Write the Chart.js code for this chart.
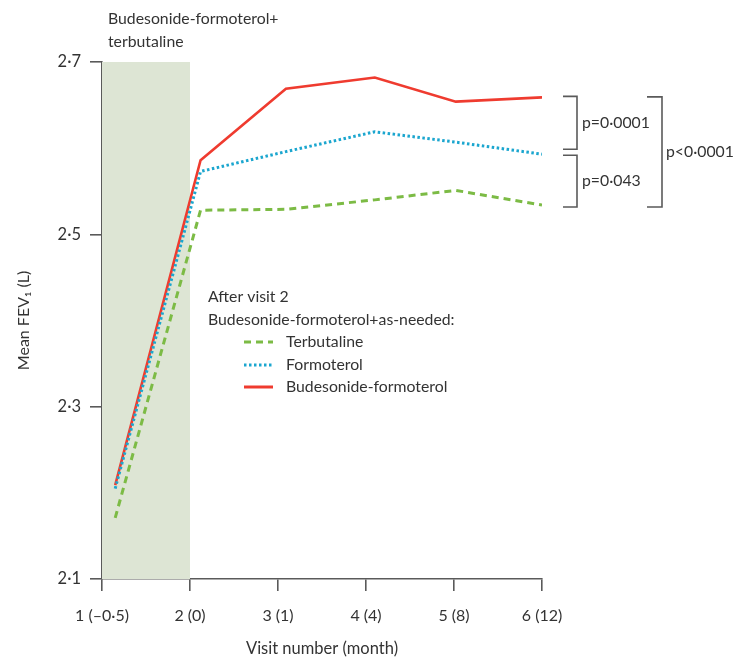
<!DOCTYPE html>
<html>
<head>
<meta charset="utf-8">
<script src="https://cdn.jsdelivr.net/npm/chart.js@4/dist/chart.umd.min.js"></script>
<style>
  html, body { margin: 0; padding: 0; background: #fff; }
  #wrap { width: 734px; height: 659px; }
</style>
</head>
<body>
<div id="wrap"><canvas id="mychart" width="734" height="659"></canvas></div>
<script>
// visit positions (slightly offset from the ticks, as in the figure)
var visits = [1.15, 2.12, 3.09, 4.1, 5.02, 6.0];
var xTickLabels = ['1 (\u20130\u00b75)', '2 (0)', '3 (1)', '4 (4)', '5 (8)', '6 (12)'];
var yTicks = [2.1, 2.3, 2.5, 2.7];

var terbutaline = [2.171, 2.528, 2.529, 2.540, 2.551, 2.534];
var formoterol  = [2.205, 2.573, 2.596, 2.619, 2.607, 2.593];
var budForm     = [2.209, 2.586, 2.669, 2.682, 2.654, 2.659];

var seriesNames = ['Terbutaline', 'Formoterol', 'Budesonide-formoterol'];
var pLabels = ['p=0\u00b70001', 'p=0\u00b7043', 'p<0\u00b70001'];

var FONT = 'Lato, "Open Sans", sans-serif';
var FS = 15.8;
var TXT = '#333333';
var AX = '#5a5a5a';

function pts(arr) {
  var out = [];
  for (var i = 0; i < arr.length; i++) out.push({x: visits[i], y: arr[i]});
  return out;
}
function dot(v) { return String(v).replace('.', '\u00b7'); }

var colors = ['#7cbb45', '#1ba6cf', '#ef3b2f'];
var dashes = [[7, 5], [2.5, 2.5], []];

// shaded run-in period + text annotations + p-value brackets
var extras = {
  id: 'extras',
  beforeDatasetsDraw: function(chart) {
    var c = chart.ctx, xs = chart.scales.x, ys = chart.scales.y;
    var x1 = xs.getPixelForValue(1), x2 = xs.getPixelForValue(2);
    var top = ys.getPixelForValue(2.7), bot = ys.getPixelForValue(2.1);
    c.save();
    c.fillStyle = '#dde5d4';
    c.fillRect(x1, top, x2 - x1, bot - top);
    c.restore();
  },
  afterDraw: function(chart) {
    var c = chart.ctx, xs = chart.scales.x, ys = chart.scales.y;
    c.save();
    c.font = FS + 'px ' + FONT;
    c.fillStyle = TXT;
    c.textBaseline = 'middle';
    c.textAlign = 'left';
    c.fillText('Budesonide-formoterol+', 108, 19);
    c.fillText('terbutaline', 108, 42);

    // legend
    c.fillText('After visit 2', 208, 297);
    c.fillText('Budesonide-formoterol+as-needed:', 208, 320);
    var rows = [342, 365, 387];
    for (var i = 0; i < 3; i++) {
      c.save();
      c.strokeStyle = colors[i];
      c.lineWidth = 3;
      c.setLineDash(dashes[i]);
      c.beginPath();
      c.moveTo(244, rows[i]);
      c.lineTo(273, rows[i]);
      c.stroke();
      c.restore();
      c.fillText(seriesNames[i], 286, rows[i]);
    }

    // brackets
    var n = visits.length - 1;
    var xe = xs.getPixelForValue(6);
    var yR = ys.getPixelForValue(budForm[n]);
    var yB = ys.getPixelForValue(formoterol[n]);
    var yG = ys.getPixelForValue(terbutaline[n]);
    c.strokeStyle = AX;
    c.lineWidth = 1.6;
    function bracket(xa, xb, ya, yb) {
      c.beginPath();
      c.moveTo(xa, ya); c.lineTo(xb, ya); c.lineTo(xb, yb); c.lineTo(xa, yb);
      c.stroke();
    }
    bracket(xe + 21, xe + 35, yR - 1, yB - 5);
    bracket(xe + 21, xe + 35, yB + 1, yG + 2);
    bracket(xe + 105, xe + 120, yR - 0.5, yG + 2);
    c.fillText(pLabels[0], xe + 40, (yR + yB) / 2 - 3);
    c.fillText(pLabels[1], xe + 40, (yB + yG) / 2 + 1);
    c.fillText(pLabels[2], xe + 124, (yR + yG) / 2 + 1);
    c.restore();
  }
};

var datasets = [];
var allSeries = [terbutaline, formoterol, budForm];
for (var i = 0; i < 3; i++) {
  datasets.push({
    label: seriesNames[i],
    data: pts(allSeries[i]),
    borderColor: colors[i],
    backgroundColor: colors[i],
    borderWidth: i == 2 ? 2.6 : 3,
    borderDash: dashes[i],
    pointRadius: 0,
    tension: 0,
    fill: false
  });
}

var ctx = document.getElementById('mychart');
var myChart = new Chart(ctx, {
  type: 'line',
  data: { datasets: datasets },
  options: {
    responsive: false,
    animation: false,
    events: [],
    layout: { padding: { left: 0, right: 192, top: 62, bottom: 0 } },
    plugins: { legend: { display: false }, tooltip: { enabled: false } },
    scales: {
      x: {
        type: 'linear',
        min: 1, max: 6,
        afterFit: function(s) { s.height = 80; },
        afterBuildTicks: function(s) {
          s.ticks = [1, 2, 3, 4, 5, 6].map(function(v) { return {value: v}; });
        },
        ticks: {
          padding: 15,
          color: TXT,
          font: { family: FONT, size: 16 },
          maxRotation: 0,
          callback: function(v) { return xTickLabels[v - 1]; }
        },
        grid: { drawOnChartArea: false, drawTicks: true, tickLength: 12, color: AX, lineWidth: 1.6 },
        border: { color: AX, width: 1.6 },
        title: { display: true, text: 'Visit number (month)', color: TXT, font: { family: FONT, size: 16.5 }, padding: { top: 17, bottom: 0 } }
      },
      y: {
        min: 2.1, max: 2.7,
        afterFit: function(s) { s.width = 102; },
        afterBuildTicks: function(s) {
          s.ticks = yTicks.map(function(v) { return {value: v}; });
        },
        ticks: {
          padding: 9,
          color: TXT,
          font: { family: FONT, size: 16.5 },
          callback: function(v) { return dot(v.toFixed(1)); }
        },
        grid: { drawOnChartArea: false, drawTicks: true, tickLength: 12, color: AX, lineWidth: 1.6 },
        border: { color: AX, width: 1.6 },
        title: { display: true, text: 'Mean FEV\u2081 (L)', color: TXT, font: { family: FONT, size: 16 }, padding: { top: 14, bottom: 4 } }
      }
    }
  },
  plugins: [extras]
});
</script>
</body>
</html>
